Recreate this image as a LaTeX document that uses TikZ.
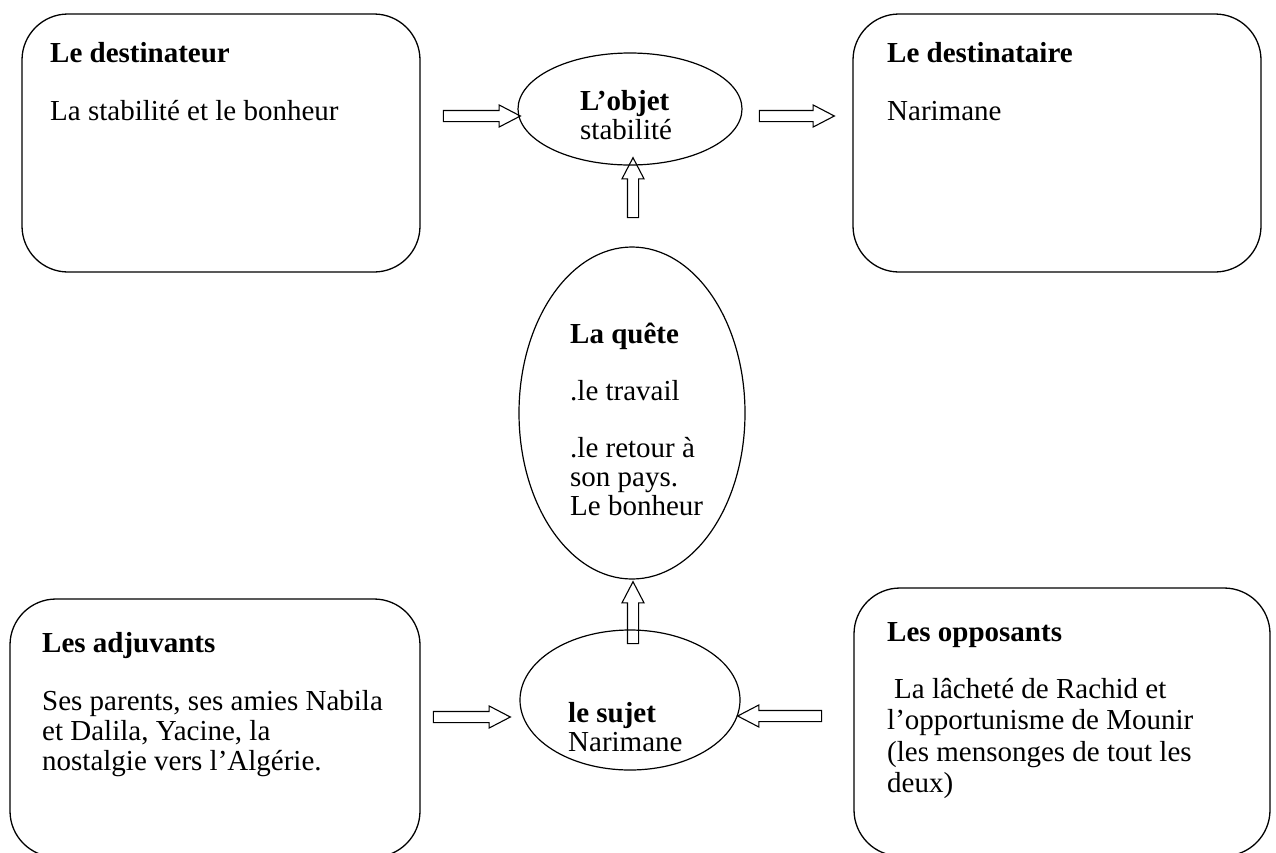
\documentclass[tikz,border=0pt]{standalone}
\usepackage{fontspec}
\setmainfont{Liberation Serif}
\usetikzlibrary{shapes.arrows,shapes.geometric}
\begin{document}
\begin{tikzpicture}[x=1pt,y=-1pt,
  box/.style={draw, line width=1.3pt, rounded corners=46pt, inner sep=0pt},
  oval/.style={draw, ellipse, line width=1.2pt, inner sep=0pt},
  txt/.style={anchor=base west, inner sep=0pt, font=\fontsize{29}{30}\selectfont},
  hd/.style={anchor=base west, inner sep=0pt, font=\fontsize{29}{30}\selectfont\bfseries},
  barrow/.style={single arrow, draw, line width=1.1pt, inner sep=5pt,
    single arrow head extend=5.5pt, single arrow tip angle=55, single arrow head indent=0pt,
    minimum width=0pt}
]
\useasboundingbox (0,0) rectangle (1276,852);
\clip (0,0) rectangle (1276,852);

% boxes
\node[box, minimum width=398pt, minimum height=258pt] (destr) at (221,143) {};
\node[box, minimum width=408pt, minimum height=258pt] (desta) at (1057,143) {};
\node[box, minimum width=410pt, minimum height=258pt] (adj) at (215,728) {};
\node[box, minimum width=416pt, minimum height=268pt] (opp) at (1062,722) {};

% ellipses
\node[oval, minimum width=224pt, minimum height=112pt] (obj) at (630,109) {};
\node[oval, minimum width=226pt, minimum height=332pt] (quete) at (632,413) {};
\node[oval, minimum width=220pt, minimum height=140pt] (sujet) at (630,700) {};

% block arrows
\node[barrow, minimum height=77pt] (a1) at (476.5,116) {};
\node[barrow, minimum height=75pt] (a2) at (791.5,116) {};
\node[barrow, minimum height=60pt, shape border rotate=90] (a3) at (633,193) {};
\node[barrow, minimum height=62pt, shape border rotate=90] (a4) at (633,618) {};
\node[barrow, minimum height=77pt] (a5) at (466.5,717) {};
\node[barrow, minimum height=84pt, shape border rotate=180] (a6) at (785,716) {};

% texts
\node[hd] (t1) at (50,62) {Le destinateur};
\node[txt] (t2) at (50,120) {La stabilité et le bonheur};

\node[hd] (t3) at (580,110) {L’objet};
\node[txt] (t4) at (580,139) {stabilité};

\node[hd] (t5) at (887,62) {Le destinataire};
\node[txt] (t6) at (887,120) {Narimane};

\node[hd] (t7) at (570,343) {La quête};
\node[txt] (t8) at (570,400) {.le travail};
\node[txt] (t9) at (570,457) {.le retour à};
\node[txt] (t10) at (570,486) {son pays.};
\node[txt] (t11) at (570,515) {Le bonheur};

\node[hd] (t12) at (42,652) {Les adjuvants};
\node[txt] (t13) at (42,710) {Ses parents, ses amies Nabila};
\node[txt] (t14) at (42,740) {et Dalila, Yacine, la};
\node[txt] (t15) at (42,770) {nostalgie vers l’Algérie.};

\node[hd] (t16) at (568,722) {le sujet};
\node[txt] (t17) at (568,751) {Narimane};

\node[hd] (t18) at (887,641) {Les opposants};
\node[txt] (t19) at (894,698) {La lâcheté de Rachid et};
\node[txt] (t20) at (887,729) {l’opportunisme de Mounir};
\node[txt] (t21) at (887,761) {(les mensonges de tout les};
\node[txt] (t22) at (887,792) {deux)};
\end{tikzpicture}
\end{document}
